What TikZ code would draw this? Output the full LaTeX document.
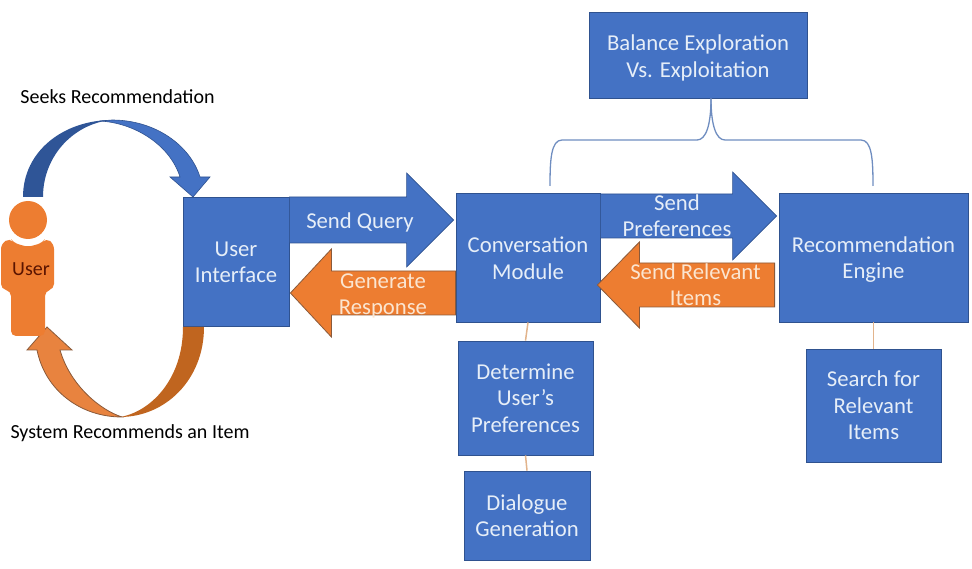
\documentclass[tikz,border=0pt]{standalone}
\usepackage{fontspec}
\setmainfont{Carlito}
\usetikzlibrary{calc}
\definecolor{boxblue}{HTML}{4472C4}
\definecolor{edgeblue}{HTML}{2F528F}
\definecolor{darkblue}{HTML}{2F5597}
\definecolor{fillorange}{HTML}{ED7D31}
\definecolor{midorange}{HTML}{E8833F}
\definecolor{darkorange}{HTML}{C0651F}
\definecolor{edgeorange}{HTML}{8A5A3A}
\definecolor{creamtext}{HTML}{FBE5D0}
\definecolor{paletext}{HTML}{E6EEF8}
\definecolor{tanline}{HTML}{E2B48C}
\definecolor{bracketline}{HTML}{6F8DC0}
\definecolor{maroon}{HTML}{5A1400}
\newcommand{\blockarrow}[6]{\draw[#1] ($(#2)+(0,-#4)$) -- ($(#3)+(#6,-#4)$) -- ($(#3)+(#6,-#5)$) -- (#3) -- ($(#3)+(#6,#5)$) -- ($(#3)+(#6,#4)$) -- ($(#2)+(0,#4)$) -- cycle;}
\newcommand{\toppad}[1]{\rule{0pt}{#1}}
\tikzset{
  x=1pt,y=-1pt,
  boxnode/.style={draw=edgeblue,line width=0.8pt,fill=boxblue,text=paletext,align=center,inner sep=0pt,
    font=\fontsize{22.7}{26.5}\selectfont},
  labelnode/.style={text=black,font=\fontsize{20}{24}\selectfont,inner sep=0pt},
  bluearrow/.style={draw=edgeblue,line width=0.6pt,fill=boxblue,line join=miter},
  orangearrow/.style={draw=edgeorange,line width=0.8pt,fill=fillorange,line join=miter},
  arrowtext/.style={align=center,inner sep=0pt,font=\fontsize{22.7}{26}\selectfont},
  tanlink/.style={draw=tanline,line width=1.5pt},
  bracket/.style={draw=bracketline,line width=1.3pt},
}
\begin{document}
\begin{tikzpicture}
\useasboundingbox (0,0) rectangle (972,569);
% boxes
\node[boxnode,minimum width=218pt,minimum height=86pt] (balance) at (698,55) {\toppad{21.6pt}Balance Exploration\\Vs. Exploitation};
\node[boxnode,minimum width=106pt,minimum height=129pt] (ui) at (236,261.5) {\toppad{16.5pt}User\\Interface};
\node[boxnode,minimum width=144pt,minimum height=129pt] (conv) at (528,257.5) {\toppad{17pt}Conversation\\Module};
\node[boxnode,minimum width=189pt,minimum height=129pt] (rec) at (873.5,257.5) {\toppad{19.6pt}Recommendation\\Engine};
\node[boxnode,minimum width=135pt,minimum height=114pt] (det) at (525.5,398) {Determine\\User’s\\Preferences};
\node[boxnode,minimum width=135pt,minimum height=113pt] (search) at (873.5,405.5) {Search for\\Relevant\\Items};
\node[boxnode,minimum width=126pt,minimum height=89pt] (dial) at (527,515.5) {Dialogue\\Generation};
% thin links
\draw[tanlink] (conv.south) -- (det.north);
\draw[tanlink] (det.south) -- (dial.north);
\draw[tanlink] (rec.south) -- (search.north);
% bracket
\coordinate (brtop) at (balance.south -| 711,0);
\coordinate (brleft) at (550,186);
\coordinate (brright) at (873,186);
\draw[bracket] (brleft) .. controls (550,160) and (551,140) .. (562,140) -- (697,140) .. controls (706,140) and (711,125) .. (brtop);
\draw[bracket] (brright) .. controls (873,160) and (872,140) .. (861,140) -- (725,140) .. controls (716,140) and (711,125) .. (brtop);
% block arrows
\coordinate (qs) at (ui.east |- 0,220);
\coordinate (qe) at ($(conv.west |- 0,220)+(-2,0)$);
\blockarrow{bluearrow}{qs}{qe}{23}{47}{-47}
\coordinate (gs) at (conv.west |- 0,293);
\coordinate (ge) at ($(ui.east |- 0,293)+(1,0)$);
\blockarrow{orangearrow}{gs}{ge}{22}{44}{41}
\coordinate (ps) at (conv.east |- 0,216);
\coordinate (pe) at ($(rec.west |- 0,216)+(-2,0)$);
\blockarrow{bluearrow}{ps}{pe}{22}{44}{-44}
\coordinate (rs) at ($(rec.west |- 0,285)+(-4,0)$);
\coordinate (re) at ($(conv.east |- 0,285)+(-3,0)$);
\blockarrow{orangearrow}{rs}{re}{22}{43}{42}
% arrow labels
\node[arrowtext,text=paletext] (lq) at (360,222) {Send Query};
\node[arrowtext,text=creamtext] (lg) at (383,296) {Generate\\Response};
\node[arrowtext,text=paletext] (lp) at (677,216) {Send\\Preferences};
\node[arrowtext,text=creamtext] (lr) at (695.5,285) {Send Relevant\\Items};
% curved arrows
\fill[darkblue] (23,197) .. controls (23,150) and (65,120) .. (112,120) .. controls (75,123) and (43,155) .. (43,197) -- cycle;
\draw[bluearrow] (112,120) .. controls (155,120) and (190,145) .. (200,177) -- (210,177) -- (193,197) -- (170,177) -- (180,177) .. controls (170,145) and (135,123) .. (100,121) -- cycle;
\fill[darkorange] (183,327) -- (204,327) .. controls (204,380) and (165,417) .. (120,417) .. controls (150,412) and (183,380) .. (183,327) -- cycle;
\draw[draw=edgeorange,line width=0.8pt,fill=midorange] (122,417) .. controls (80,417) and (45,390) .. (37,350) -- (27,350) -- (47,327) -- (72,350) -- (60,350) .. controls (70,385) and (100,410) .. (122,417) -- cycle;
% user
\fill[fillorange] (28,220) circle[radius=19];
\fill[fillorange,rounded corners=5pt] (10,238) -- (1,244) -- (1,289) -- (11,291) -- (11,336) -- (45,336) -- (45,291) -- (54,289) -- (54,244) -- (46,238) -- (42,243) -- (28,247) -- (14,243) -- cycle;
\node[text=maroon,inner sep=0pt,font=\fontsize{20}{24}\selectfont] (user) at (31,269) {User};
% labels
\node[labelnode] (seek) at (117.5,97) {Seeks Recommendation};
\node[labelnode] (sys) at (130,433) {System Recommends an Item};
\end{tikzpicture}
\end{document}
